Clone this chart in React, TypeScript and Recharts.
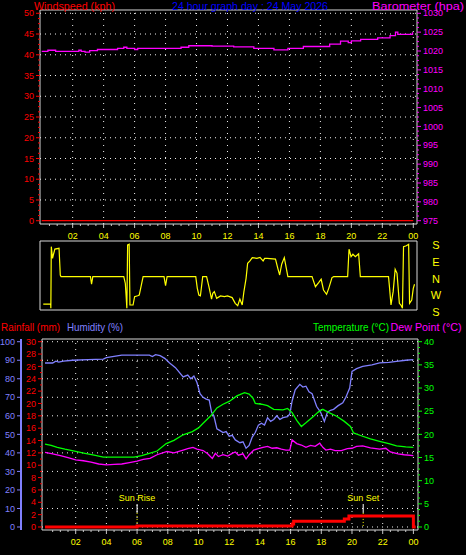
import React from 'react';
import { LineChart, ComposedChart, Line, XAxis, YAxis, ReferenceLine, ReferenceArea } from 'recharts';

// ---------------- data ----------------
const windHours = [0, 24];
const windSpeed = [0, 0];

const baroHours = [0, 0.4, 0.9, 2.4, 2.55, 2.8, 3.1, 3.6, 4.9, 5.3, 5.5, 6.0, 6.2, 9.0, 9.5, 11.0, 12.4, 13.7, 15.0, 15.9, 16.9, 18.6, 19.3, 19.8, 20.0, 20.6, 21.7, 22.5, 22.85, 23.0, 23.95, 24];
const baroValues = [1019.9, 1020.2, 1019.9, 1020.2, 1019.9, 1019.7, 1020.1, 1020.4, 1020.7, 1021.0, 1020.7, 1020.4, 1020.7, 1021.0, 1021.4, 1021.3, 1021.1, 1020.7, 1020.3, 1020.7, 1021.2, 1021.8, 1022.6, 1022.2, 1022.7, 1023.1, 1023.5, 1024.1, 1025.0, 1024.4, 1024.8, 1024.8];

// wind direction on the panel scale: 0 = S (bottom), 90 = W, 180 = N, 270 = E, 360 = S (top)
const dirHours = [0.1, 0.58, 0.59, 0.62, 0.7, 0.75, 0.85, 1.12, 1.2, 1.25, 3.15, 3.22, 3.3, 5.3, 5.4, 5.5, 5.55, 5.65, 5.7, 5.9, 6.0, 6.2, 6.3, 6.55, 7.9, 8.0, 8.1, 9.95, 10.05, 10.15, 10.25, 10.4, 10.65, 10.8, 10.97, 11.05, 11.15, 11.3, 11.55, 11.8, 12.0, 12.3, 12.5, 12.66, 12.8, 12.95, 13.06, 13.2, 13.3, 13.45, 13.6, 13.9, 14.1, 14.3, 14.4, 14.56, 15.1, 15.25, 15.37, 15.5, 15.67, 15.8, 15.9, 17.46, 17.68, 17.9, 18.05, 18.2, 18.4, 18.54, 18.75, 18.86, 19.76, 19.85, 19.98, 20.1, 20.26, 20.47, 20.58, 22.4, 22.47, 22.56, 22.7, 22.83, 22.95, 23.1, 23.2, 23.3, 23.37, 23.55, 23.7, 23.76, 23.9, 24.0, 24.08];
const dirValues = [32, 32, 9, 342, 279, 297, 329, 333, 189, 180, 180, 139, 180, 180, 144, 9, 351, 355, 27, 27, 72, 77, 81, 180, 180, 131, 180, 180, 117, 81, 77, 180, 180, 126, 59, 90, 99, 63, 76, 72, 76, 67, 36, 23, 59, 27, 99, 171, 252, 265, 283, 279, 284, 265, 279, 279, 275, 225, 189, 247, 283, 225, 180, 180, 126, 149, 166, 108, 85, 117, 175, 180, 180, 328, 288, 301, 288, 304, 180, 180, 117, 27, 99, 220, 198, 36, 27, 9, 342, 347, 355, 36, 54, 117, 139];
const dirTicks = [0, 90, 180, 270, 360];
const dirLabels = ['S', 'W', 'N', 'E', 'S'];

const humHours = [0, 0.5, 0.7, 0.9, 1.2, 1.8, 2.8, 3.8, 4.0, 5.0, 6.8, 7.0, 7.2, 7.5, 7.8, 8.1, 8.5, 8.7, 9.0, 9.3, 9.5, 9.7, 9.9, 10.1, 10.3, 10.5, 10.7, 10.85, 11.0, 11.2, 11.4, 11.6, 11.8, 12.0, 12.2, 12.4, 12.7, 12.9, 13.1, 13.3, 13.5, 13.7, 13.9, 14.1, 14.3, 14.5, 14.7, 14.9, 15.1, 15.3, 15.5, 15.8, 15.95, 16.1, 16.3, 16.6, 16.8, 17.0, 17.2, 17.4, 17.7, 17.95, 18.2, 18.4, 18.6, 18.8, 19.1, 19.4, 19.6, 19.85, 20.0, 20.3, 20.7, 21.3, 21.8, 22.4, 22.9, 23.5, 24];
const humValues = [88.5, 88.5, 89.5, 89, 89.5, 90, 90.3, 90.6, 91.4, 92.8, 92.8, 92, 93, 92.5, 91, 88.6, 86, 84, 81, 82, 80, 81.5, 78, 72, 70, 69, 68.5, 62, 60, 53, 52, 51, 51.5, 49, 49.5, 47, 45.5, 46, 42.5, 44, 48.5, 51, 55, 56, 55, 59, 57, 58, 60, 58, 59, 59.6, 61, 68, 74, 77, 75.5, 76, 73, 72, 65, 62, 57, 62, 63, 63.5, 65.5, 67, 70, 75, 84, 85.5, 86.7, 87.5, 88.6, 88.8, 89.4, 90, 90.3];

const tempHours = [0, 0.4, 0.8, 1.3, 2.0, 2.6, 3.2, 3.8, 5.8, 6.3, 6.8, 7.3, 7.9, 8.4, 9.0, 9.6, 10.0, 10.3, 10.8, 11.2, 11.6, 12.0, 12.5, 13.0, 13.3, 13.55, 13.7, 14.1, 14.5, 14.9, 15.5, 15.8, 16.1, 16.4, 16.7, 17.0, 17.5, 17.8, 18.1, 18.5, 19.0, 19.5, 19.9, 20.1, 20.6, 21.2, 21.8, 22.4, 22.9, 23.5, 24];
const tempValues = [17.9, 17.6, 17.2, 16.8, 16.3, 15.9, 15.5, 15.1, 15.1, 15.4, 15.9, 16.4, 18.0, 18.7, 19.9, 20.6, 21.4, 22.4, 24.0, 25.7, 26.5, 27.1, 28.3, 29.0, 28.7, 27.8, 26.7, 26.5, 26.2, 25.4, 25.3, 25.6, 24.7, 23.0, 21.7, 22.5, 23.9, 24.8, 25.4, 24.7, 23.9, 22.8, 21.7, 20.3, 19.7, 19.0, 18.5, 18.0, 17.5, 17.3, 17.2];

const dewHours = [0, 0.5, 1.0, 1.5, 2.0, 2.5, 3.0, 3.5, 4.0, 4.5, 5.0, 5.5, 6.0, 6.4, 6.84, 7.3, 7.95, 8.4, 9.0, 9.3, 9.64, 9.9, 10.3, 10.6, 10.9, 11.1, 11.3, 11.6, 11.9, 12.2, 12.4, 12.6, 12.9, 13.1, 13.3, 13.6, 13.9, 14.2, 14.5, 14.8, 15.1, 15.4, 15.7, 15.95, 16.1, 16.4, 16.7, 17.0, 17.3, 17.6, 17.9, 18.1, 18.3, 18.6, 18.9, 19.3, 19.7, 20.0, 20.3, 20.7, 21.2, 21.8, 22.2, 22.5, 23.0, 23.4, 24];
const dewValues = [16.1, 15.8, 15.4, 15.0, 14.5, 14.3, 14.0, 13.6, 13.4, 13.5, 13.6, 13.9, 14.2, 14.6, 14.8, 15.6, 16.3, 16.0, 16.6, 16.9, 17.2, 16.8, 16.5, 15.8, 14.8, 15.9, 15.2, 15.6, 15.3, 15.9, 16.2, 15.5, 15.8, 14.7, 15.6, 16.6, 16.9, 17.2, 17.4, 17.0, 17.1, 16.8, 16.6, 16.6, 18.8, 18.0, 17.7, 17.2, 17.6, 17.4, 18.1, 17.2, 16.6, 16.8, 16.5, 16.5, 16.9, 17.0, 17.4, 17.5, 17.1, 16.8, 17.0, 16.2, 15.8, 15.6, 15.4];

const rainHours = [0, 6.0, 16.1, 16.2, 19.5, 19.8, 23.95, 24, 24.15];
const rainValues = [0, 0.15, 0.5, 0.95, 1.3, 1.8, 1.8, 0, 0];

const sunHours = [6.0, 20.73];
const sunLabels = ['Sun Rise', 'Sun Set'];

const hourGrid = [2, 4, 6, 8, 10, 12, 14, 16, 18, 20, 22, 24];
const windTicks = [0, 5, 10, 15, 20, 25, 30, 35, 40, 45, 50];
const baroTicks = [975, 980, 985, 990, 995, 1000, 1005, 1010, 1015, 1020, 1025, 1030];
const humTicks = [0, 10, 20, 30, 40, 50, 60, 70, 80, 90, 100];
const rainTicks = [0, 2, 4, 6, 8, 10, 12, 14, 16, 18, 20, 22, 24, 26, 28, 30];
const tempTicks = [0, 5, 10, 15, 20, 25, 30, 35, 40];

// ---------------- helpers ----------------
const FONT = '"Liberation Sans", Arial, Helvetica, sans-serif';
const FRAME = '#d8d8d8';
const DOTS = '#f0f0f0';
const RAIN_ID = 'a1Rain';
const HUM_ID = 'b2Humidity';

const rows = (hours: number[], values: number[]) => hours.map((h, i) => ({ h, v: values[i] }));
const minorFrom = (major: number[], sub: number) => {
  const out: number[] = [];
  for (let i = 0; i < major.length - 1; i++) {
    const step = (major[i + 1] - major[i]) / sub;
    for (let k = 0; k < sub; k++) out.push(major[i] + k * step);
  }
  out.push(major[major.length - 1]);
  return out;
};
const xTicksAll = minorFrom([0, ...hourGrid], 4).filter((t) => t > 0);

const X_TOP: [number, number] = [-0.11, 24.24];
const X_BOT: [number, number] = [-0.195, 24.3];
const WIND_DOM: [number, number] = [-0.79, 50.79];
const BARO_DOM: [number, number] = [974.125, 1030.875];
const DIR_DOM: [number, number] = [0, 372.6];
const HUM_DOM: [number, number] = [-1.62, 101.46];
const RAIN_DOM: [number, number] = [-0.486, 30.437];
const TEMP_DOM: [number, number] = [-0.648, 40.583];

const renderXTick = (p: any) => {
  const { x, y, payload } = p;
  const v = payload.value;
  const major = Math.abs(v % 2) < 1e-6;
  const label = String(Math.round(v) % 24).padStart(2, '0');
  return (
    <g>
      <line x1={x} x2={x} y1={y} y2={y + (major ? 4 : 2)} stroke="#c8c8c8" strokeWidth={1} />
      {major && (
        <text x={x} y={y + 14.5} textAnchor="middle" fill="#ffff00" fontSize={9} fontFamily={FONT}>
          {label}
        </text>
      )}
    </g>
  );
};

const makeYTick = (side: 'left' | 'right', color: string, majors: number[]) => (p: any) => {
  const { x, y, payload } = p;
  const v = payload.value;
  const major = majors.some((m) => Math.abs(m - v) < 1e-6);
  const dir = side === 'left' ? -1 : 1;
  const len = major ? 4 : 2;
  return (
    <g>
      <line x1={x} x2={x + dir * len} y1={y} y2={y} stroke={color} strokeWidth={1} />
      {major && (
        <text x={x + dir * 6} y={y} dy={3.2} textAnchor={side === 'left' ? 'end' : 'start'} fill={color} fontSize={9} fontFamily={FONT}>
          {String(v)}
        </text>
      )}
    </g>
  );
};

const renderDirTick = (p: any) => {
  const { x, y, payload } = p;
  const idx = dirTicks.indexOf(payload.value);
  return (
    <text x={x + 19} y={y + 6} textAnchor="middle" fill="#ffff00" fontSize={11} fontFamily={FONT}>
      {dirLabels[idx]}
    </text>
  );
};

const windRows = rows(windHours, windSpeed);
const baroRows = rows(baroHours, baroValues);
const dirRows = rows(dirHours, dirValues);
const humRows = rows(humHours, humValues);
const tempRows = rows(tempHours, tempValues);
const dewRows = rows(dewHours, dewValues);
const rainRows = rows(rainHours, rainValues);

export default function App() {
  return (
    <div style={{ position: 'absolute', left: 0, top: 0, width: 466, height: 555, background: '#000', overflow: 'hidden' }}>
      {/* Top panel: windspeed and barometer */}
      <div style={{ position: 'absolute', left: 0, top: 0 }}>
        <LineChart width={466} height={240} margin={{ top: 10, right: 0, bottom: 0, left: 0 }}>
          <XAxis type="number" dataKey="h" domain={X_TOP} allowDataOverflow ticks={xTicksAll} interval={0}
            tickSize={0} tickMargin={0} tickLine={false} axisLine={false} height={16} tick={renderXTick} />
          <YAxis yAxisId="wind" orientation="left" width={40} domain={WIND_DOM} allowDataOverflow
            ticks={minorFrom(windTicks, 4)} interval={0} tickSize={0} tickMargin={0} tickLine={false} axisLine={false}
            tick={makeYTick('left', '#ff0000', windTicks)} />
          <YAxis yAxisId="baro" orientation="right" width={49} domain={BARO_DOM} allowDataOverflow
            ticks={minorFrom(baroTicks, 4)} interval={0} tickSize={0} tickMargin={0} tickLine={false} axisLine={false}
            tick={makeYTick('right', '#ff00ff', baroTicks)} />
          {windTicks.filter((t) => t > 0).map((t) => (
            <ReferenceLine key={'wh' + t} yAxisId="wind" y={t} stroke={DOTS} strokeDasharray="1 4" />
          ))}
          {hourGrid.map((t) => (
            <ReferenceLine key={'wv' + t} yAxisId="wind" x={t} stroke={DOTS} strokeDasharray="1 5" />
          ))}
          <ReferenceArea yAxisId="wind" x1={X_TOP[0]} x2={X_TOP[1]} y1={WIND_DOM[0]} y2={WIND_DOM[1]}
            fill="none" fillOpacity={0} stroke={FRAME} strokeWidth={1} ifOverflow="visible" />
          <Line yAxisId="baro" data={baroRows} dataKey="v" type="stepAfter" stroke="#ff00ff" strokeWidth={1.3}
            dot={false} isAnimationActive={false} />
          <Line yAxisId="wind" data={windRows} dataKey="v" type="linear" stroke="#ff0000" strokeWidth={1.3}
            dot={false} isAnimationActive={false} />
        </LineChart>
      </div>

      {/* Wind direction panel */}
      <div style={{ position: 'absolute', left: 0, top: 225 }}>
        <LineChart width={466} height={100} margin={{ top: 16, right: 0, bottom: 15, left: 40 }}>
          <XAxis hide type="number" dataKey="h" domain={X_TOP} allowDataOverflow />
          <YAxis yAxisId="dir" orientation="right" width={49} domain={DIR_DOM} allowDataOverflow ticks={dirTicks}
            interval={0} tickSize={0} tickMargin={0} tickLine={false} axisLine={false} tick={renderDirTick} />
          <ReferenceArea yAxisId="dir" x1={X_TOP[0]} x2={X_TOP[1]} y1={DIR_DOM[0]} y2={DIR_DOM[1]}
            fill="none" fillOpacity={0} stroke={FRAME} strokeWidth={1} ifOverflow="visible" />
          <Line yAxisId="dir" data={dirRows} dataKey="v" type="linear" stroke="#ffff00" strokeWidth={1.2}
            dot={false} isAnimationActive={false} />
        </LineChart>
      </div>

      {/* Bottom panel: rainfall, humidity, temperature, dew point */}
      <div style={{ position: 'absolute', left: 0, top: 320 }}>
        <ComposedChart width={466} height={235} margin={{ top: 19, right: 0, bottom: 0, left: 0 }}>
          <XAxis type="number" dataKey="h" domain={X_BOT} allowDataOverflow ticks={xTicksAll} interval={0}
            tickSize={0} tickMargin={0} tickLine={false} axisLine={false} height={25} tick={renderXTick} />
          <YAxis yAxisId={RAIN_ID} orientation="left" width={21} domain={RAIN_DOM} allowDataOverflow
            ticks={minorFrom(rainTicks, 2)} interval={0} tickSize={0} tickMargin={0} tickLine={false} axisLine={false}
            tick={makeYTick('left', '#ff0000', rainTicks)} />
          <YAxis yAxisId={HUM_ID} orientation="left" width={21} domain={HUM_DOM} allowDataOverflow
            ticks={humTicks} interval={0} tickSize={0} tickMargin={0} tickLine={false}
            axisLine={{ stroke: '#8080ff', strokeWidth: 2 }}
            tick={makeYTick('left', '#8080ff', humTicks)} />
          <YAxis yAxisId="temp" orientation="right" width={48} domain={TEMP_DOM} allowDataOverflow
            ticks={minorFrom(tempTicks, 4)} interval={0} tickSize={0} tickMargin={0} tickLine={false} axisLine={false}
            tick={makeYTick('right', '#00ff00', tempTicks)} />
          {humTicks.map((t) => (
            <ReferenceLine key={'bh' + t} yAxisId={HUM_ID} y={t} stroke={DOTS} strokeDasharray="1 4" />
          ))}
          {hourGrid.map((t) => (
            <ReferenceLine key={'bv' + t} yAxisId={HUM_ID} x={t} stroke={DOTS} strokeDasharray="1 5" />
          ))}
          <ReferenceArea yAxisId={HUM_ID} x1={X_BOT[0]} x2={X_BOT[1]} y1={HUM_DOM[0]} y2={HUM_DOM[1]}
            fill="none" fillOpacity={0} stroke={FRAME} strokeWidth={1} ifOverflow="visible" />
          {sunHours.map((h, i) => (
            <ReferenceLine key={'sw' + i} yAxisId={HUM_ID} segment={[{ x: h, y: 12.4 }, { x: h, y: 7.6 }]}
              stroke="#ffffff" strokeWidth={1}
              label={{ value: sunLabels[i], position: 'top', offset: 3, fill: '#ffff00', fontSize: 9, fontFamily: FONT }} />
          ))}
          {sunHours.map((h, i) => (
            <ReferenceLine key={'sy' + i} yAxisId={HUM_ID} segment={[{ x: h, y: 7.6 }, { x: h, y: 0 }]}
              stroke="#ffff00" strokeWidth={1} strokeDasharray="1 2" />
          ))}
          <Line yAxisId={HUM_ID} data={humRows} dataKey="v" type="linear" stroke="#8080ff" strokeWidth={1.3}
            dot={false} isAnimationActive={false} />
          <Line yAxisId="temp" data={tempRows} dataKey="v" type="linear" stroke="#00ff00" strokeWidth={1.3}
            dot={false} isAnimationActive={false} />
          <Line yAxisId="temp" data={dewRows} dataKey="v" type="linear" stroke="#ff00ff" strokeWidth={1.3}
            dot={false} isAnimationActive={false} />
          <Line yAxisId={RAIN_ID} data={rainRows} dataKey="v" type="stepAfter" stroke="#ff0000" strokeWidth={3}
            dot={false} isAnimationActive={false} />
        </ComposedChart>
      </div>

      {/* Titles */}
      <svg width={466} height={555} style={{ position: 'absolute', left: 0, top: 0, pointerEvents: 'none' }}>
        <g fontFamily={FONT} fontSize={11}>
          <text x={34} y={9.5} fill="#ff0000" textLength={81} lengthAdjust="spacingAndGlyphs">Windspeed (kph)</text>
          <text x={172} y={9.5} fill="#0000ff" textLength={156} lengthAdjust="spacingAndGlyphs">24 hour graph day : 24 May 2026</text>
          <text x={372} y={9.5} fill="#ff00ff" textLength={92} lengthAdjust="spacingAndGlyphs">Barometer (hpa)</text>
          <text x={1} y={330.5} fill="#ff0000" textLength={59} lengthAdjust="spacingAndGlyphs">Rainfall (mm)</text>
          <text x={67} y={330.5} fill="#8080ff" textLength={56} lengthAdjust="spacingAndGlyphs">Humidity (%)</text>
          <text x={313} y={330.5} fill="#00ff00" textLength={76} lengthAdjust="spacingAndGlyphs">Temperature (°C)</text>
          <text x={390.5} y={330.5} fill="#ff00ff" textLength={71} lengthAdjust="spacingAndGlyphs">Dew Point (°C)</text>
        </g>
      </svg>
    </div>
  );
}
